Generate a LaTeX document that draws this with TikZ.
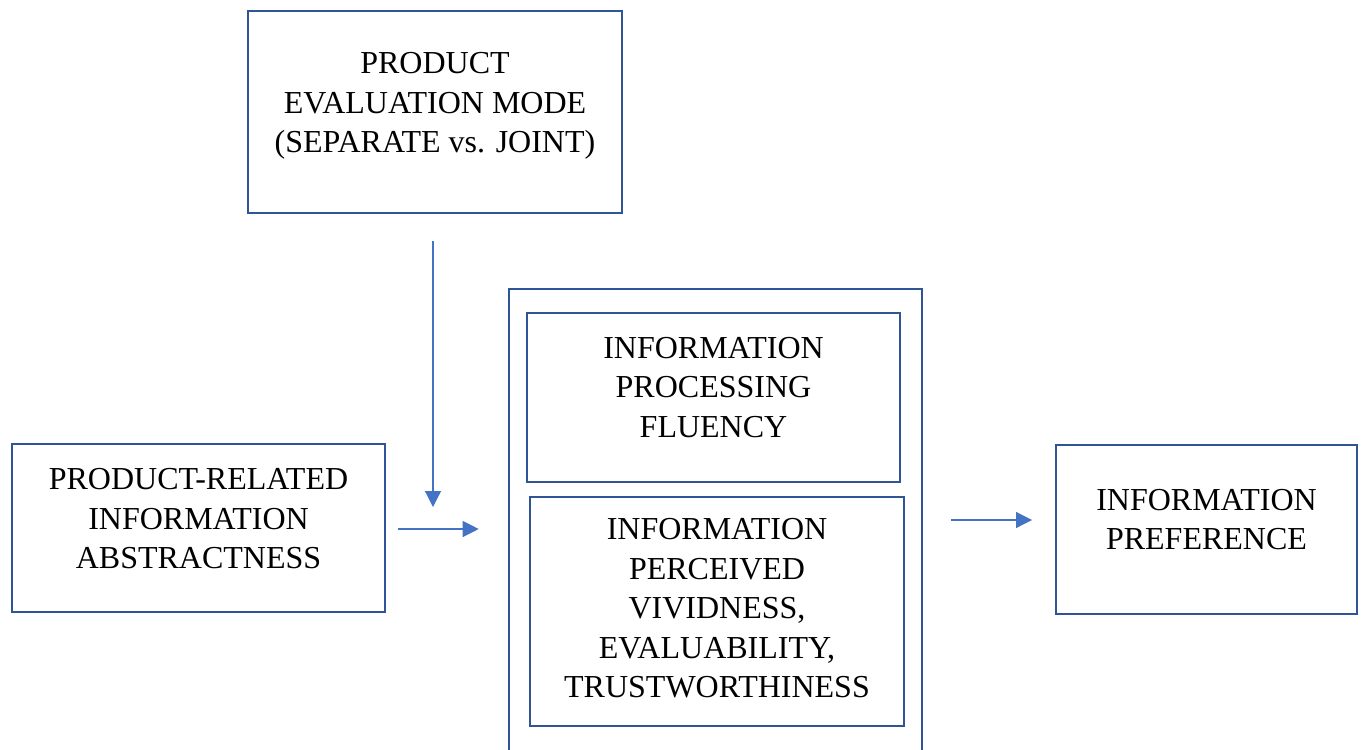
\documentclass[tikz,border=0pt]{standalone}
\usepackage{fontspec}
\setmainfont{Liberation Serif}
\usetikzlibrary{arrows.meta}
\definecolor{boxblue}{HTML}{2F5597}
\definecolor{arwblue}{HTML}{4472C4}
\newcommand{\arw}{-{Triangle[length=8pt,width=8pt]}}
\tikzset{
  box/.style={draw=boxblue, line width=1.3pt, inner sep=0pt},
  txt/.style={align=center, inner sep=0pt, font=\fontsize{16}{19.75}\selectfont},
  flow/.style={draw=arwblue, fill=arwblue, line width=0.6pt},
}
\begin{document}
\begin{tikzpicture}[x=.5pt,y=-.5pt]
\useasboundingbox (0,0) rectangle (1364,749);
%moderator
\node[box, minimum width=187pt, minimum height=101pt] (evalmode) at (435,112) {};
\node[txt] (evalmodetext) at ([yshift=3pt]evalmode.center) {PRODUCT\\EVALUATION MODE\\(SEPARATE vs. JOINT)};
%independent variable
\node[box, minimum width=186.5pt, minimum height=84pt] (abstract) at (198.5,528) {};
\node[txt] (abstracttext) at ([yshift=4.5pt]abstract.center) {PRODUCT-RELATED\\INFORMATION\\ABSTRACTNESS};
%mediators, outer frame runs off the page
\begin{scope}
\clip (0,0) rectangle (1364,749);
\node[box, minimum width=206.5pt, minimum height=255.5pt] (mediator) at (715.5,544.5) {};
\end{scope}
\node[box, minimum width=186.5pt, minimum height=84.5pt] (fluency) at (713.5,397.5) {};
\node[txt] (fluencytext) at ([yshift=5pt]fluency.center) {INFORMATION\\PROCESSING\\FLUENCY};
\node[box, minimum width=187pt, minimum height=114.5pt] (vivid) at (717,611.5) {};
\node[txt] (vividtext) at ([yshift=1.5pt]vivid.center) {INFORMATION\\PERCEIVED\\VIVIDNESS,\\EVALUABILITY,\\TRUSTWORTHINESS};
%dependent variable
\node[box, minimum width=150.5pt, minimum height=84.5pt] (preference) at (1206.5,529.5) {};
\node[txt] (preferencetext) at ([yshift=5pt]preference.center) {INFORMATION\\PREFERENCE};
%arrows
\coordinate (modtip) at (433,507);
\coordinate (preftip) at (1032,520);
\draw[flow,\arw,shorten <=13.5pt] (evalmode.south -| modtip) -- (modtip);
\draw[flow,\arw,shorten <=6pt,shorten >=14.5pt] ([yshift=-.5pt]abstract.east) -- ([yshift=-.5pt]abstract.east -| mediator.west);
\draw[flow,\arw,shorten <=14pt] (preftip -| mediator.east) -- (preftip);
\end{tikzpicture}
\end{document}
